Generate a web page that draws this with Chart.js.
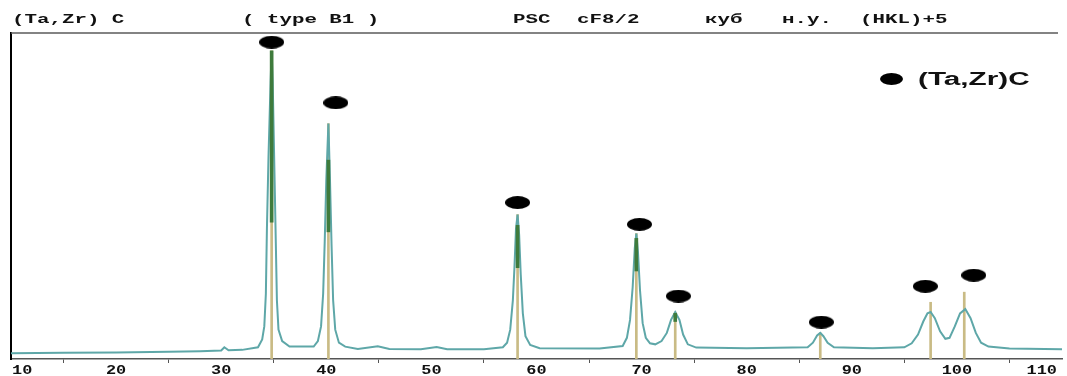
<!DOCTYPE html>
<html>
<head>
<meta charset="utf-8">
<script src="https://cdn.jsdelivr.net/npm/chart.js@4/dist/chart.umd.min.js"></script>
<style>
  html, body { margin: 0; padding: 0; background: #fff; }
  #wrap { width: 1067px; height: 376px; }
</style>
</head>
<body>
<div id="wrap"><canvas id="xrd" width="1067" height="376"></canvas></div>
<script>
// 2θ axis
const xTicks = [10, 20, 30, 40, 50, 60, 70, 80, 90, 100, 110];
const tickLabels = ['10', '20', '30', '40', '50', '60', '70', '80', '90', '100', '110'];

// measured profile (2θ, intensity)
const profileX = [10, 15, 20, 25, 28, 30, 30.3, 30.7, 32, 33.5, 33.9, 34.1, 34.25, 34.35, 34.5, 34.7, 34.8, 34.9, 35.05,
  35.2, 35.3, 35.45, 35.8, 36.5, 38.8, 39.2, 39.5, 39.7, 39.85, 40.0, 40.2, 40.35, 40.5, 40.65, 40.85, 41.2, 41.8,
  43, 44.9, 46, 49, 50.5, 51.5, 55, 56.8, 57.2, 57.5, 57.75, 57.9, 58.05, 58.2, 58.35, 58.5, 58.7, 58.95, 59.4, 60.3,
  66, 68.2, 68.6, 68.9, 69.15, 69.35, 69.5, 69.65, 69.85, 70.1, 70.4, 70.8, 71.3, 71.9, 72.4, 72.8, 73.2, 73.6, 73.95,
  74.4, 75.2, 80, 85.8, 86.3, 86.7, 87.0, 87.3, 87.7, 88.3, 92, 95, 95.7, 96.3, 96.8, 97.2, 97.5, 97.9, 98.4, 98.9,
  99.3, 99.8, 100.3, 100.8, 101.3, 101.8, 102.3, 103, 105, 110];
const profileY = [1.8, 1.9, 2.0, 2.2, 2.4, 2.6, 3.6, 2.7, 2.8, 3.6, 6, 10, 20, 40, 62, 85, 94.5, 85, 60,
  35, 18, 9, 5.5, 3.8, 3.8, 5.5, 10, 20, 36, 55, 72.2, 55, 35, 18, 9, 5, 3.8,
  3.1, 3.9, 3.1, 3.0, 3.7, 3.0, 3.0, 3.6, 5, 9, 18, 28, 40, 44.3, 38, 26, 14, 7, 4.3, 3.3,
  3.2, 4, 6.5, 12, 22, 34, 38.5, 33, 21, 11, 6.5, 4.8, 4.5, 5.5, 8, 12, 14.4, 12, 7.5,
  4.5, 3.5, 3.3, 3.6, 5, 7.2, 8, 7, 5, 3.6, 3.3, 3.6, 4.8, 7.5, 11.5, 14, 14.4, 12.5, 8.5, 6.2,
  6.5, 10, 14, 15.3, 12.5, 8, 5, 3.8, 3.2, 3.0];

// reference lines of (Ta,Zr)C
const stickX = [34.8, 40.2, 58.2, 69.5, 73.2, 87.0, 97.5, 100.7];
const stickY = [94.5, 72.2, 44.3, 38.5, 14.4, 8.0, 17.4, 20.5];

// overlap of profile flanks with the reference lines
const overlapX = [34.8, 40.2, 58.2, 69.5, 73.2];
const overlapLo = [42, 39, 28, 27, 11.5];
const overlapHi = [94.5, 61, 41, 37, 14];

// phase markers
const markX = [34.8, 40.9, 58.2, 69.8, 73.5, 87.1, 97.0, 101.6];
const markY = [97.2, 78.6, 48.0, 41.3, 19.3, 11.3, 22.3, 25.7];

const headerText = ['(Ta,Zr) C', '( type B1 )', 'PSC', 'cF8/2', 'куб', 'н.у.', '(HKL)+5'];
const headerX = [12, 242, 513, 577, 705, 782, 860];
const legendText = '(Ta,Zr)C';

function ellipseImage(w, h) {
  const c = document.createElement('canvas');
  c.width = w; c.height = h;
  const g = c.getContext('2d');
  g.fillStyle = '#000';
  g.beginPath();
  g.ellipse(w / 2, h / 2, w / 2, h / 2, 0, 0, Math.PI * 2);
  g.fill();
  return c;
}
const dot = ellipseImage(25, 13);
const legendDot = ellipseImage(23, 12);

// text stretched horizontally
function wideText(ctx, text, x, y, sx, align) {
  ctx.save();
  ctx.translate(x, y);
  ctx.scale(sx, 1);
  ctx.textAlign = align;
  ctx.fillText(text, 0, 0);
  ctx.restore();
}

const overlay = {
  id: 'overlay',
  afterDraw(chart) {
    const ctx = chart.ctx, xs = chart.scales.x, a = chart.chartArea;
    ctx.save();
    // top frame
    ctx.strokeStyle = '#5a5a5a';
    ctx.lineWidth = 1.5;
    ctx.beginPath();
    ctx.moveTo(a.left, a.top);
    ctx.lineTo(a.right - 4, a.top);
    ctx.stroke();

    ctx.fillStyle = '#111';
    ctx.textBaseline = 'middle';
    ctx.font = 'bold 13px "Liberation Mono"';
    headerText.forEach((t, i) => wideText(ctx, t, headerX[i], 20, 1.6, 'left'));

    // x tick labels
    xTicks.forEach((v, i) => {
      let px = xs.getPixelForValue(v), align = 'center';
      if (i === 0) { px += 1; align = 'left'; }
      if (i === xTicks.length - 1) { px -= 5; align = 'right'; }
      wideText(ctx, tickLabels[i], px, 371, 1.3, align);
    });

    // legend
    ctx.drawImage(legendDot, 880, 73);
    ctx.font = 'bold 18px "Liberation Sans"';
    wideText(ctx, legendText, 918, 80, 1.65, 'left');
    ctx.restore();
  }
};

new Chart(document.getElementById('xrd'), {
  type: 'line',
  data: {
    datasets: [
      {
        type: 'scatter',
        data: markX.map((x, i) => ({ x: x, y: markY[i] })),
        pointStyle: dot,
        showLine: false,
        order: 0,
        clip: false
      },
      {
        type: 'bar',
        data: overlapX.map((x, i) => ({ x: x, y: [overlapLo[i], overlapHi[i]] })),
        backgroundColor: '#3f7b3c',
        barThickness: 3,
        grouped: false,
        order: 1
      },
      {
        type: 'line',
        data: profileX.map((x, i) => ({ x: x, y: profileY[i] })),
        borderColor: '#5ea7a8',
        borderWidth: 2,
        pointRadius: 0,
        tension: 0,
        fill: false,
        order: 2
      },
      {
        type: 'bar',
        data: stickX.map((x, i) => ({ x: x, y: stickY[i] })),
        backgroundColor: '#c9bb85',
        barThickness: 2,
        grouped: false,
        order: 3
      }
    ]
  },
  options: {
    responsive: false,
    animation: false,
    layout: { padding: { left: 11, right: 3, top: 33, bottom: 0 } },
    plugins: { legend: { display: false }, tooltip: { enabled: false } },
    scales: {
      x: {
        type: 'linear',
        min: 10,
        max: 110,
        offset: false,
        ticks: { stepSize: 10, display: false },
        grid: { drawOnChartArea: false, drawTicks: true, tickLength: 4, color: '#555' },
        border: { color: '#555', width: 1.5 },
        afterFit(s) { s.height = 17; }
      },
      y: {
        min: 0,
        max: 100,
        ticks: { display: false },
        grid: { display: false },
        border: { color: '#000', width: 2 },
        afterFit(s) { s.width = 0; }
      }
    }
  },
  plugins: [overlay]
});
</script>
</body>
</html>
